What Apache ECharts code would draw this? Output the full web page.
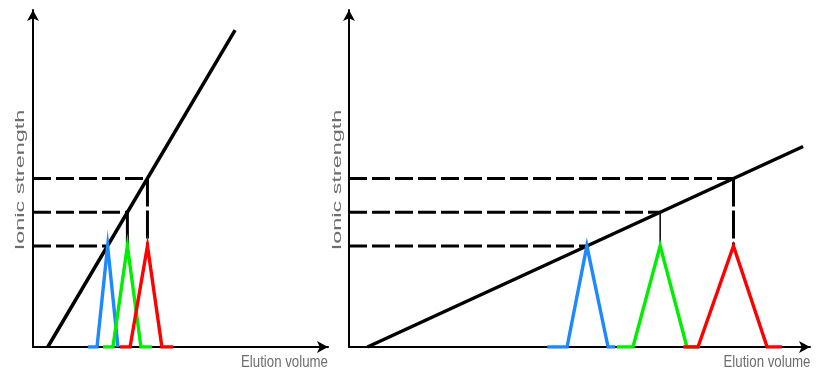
<!DOCTYPE html>
<html>
<head>
<meta charset="utf-8">
<script src="https://cdn.jsdelivr.net/npm/echarts@6/dist/echarts.min.js"></script>
<style>
  html, body { margin: 0; padding: 0; background: #fff; }
  #chart { width: 816px; height: 378px; }
</style>
</head>
<body>
<div id="chart"></div>
<script>
// Ionic strength levels at which the three proteins elute (shared by both panels)
const ionicLevels = [30, 40, 50];
const peakHeight = 30;

// Steep salt gradient (left panel): [elution volume, ionic strength]
const steepGradient = [[5, 0], [68.5, 94]];
const steepPeakX = [25.3, 32.0, 38.8];
const steepBlue = [[18.6, 0], [21.7, 0], [25.3, 30], [28.8, 0]];
const steepGreen = [[23.7, 0], [27.1, 0], [32.0, 30], [36.6, 0], [40.3, 0]];
const steepRed = [[29.5, 0], [32.9, 0], [38.8, 30], [43.7, 0], [47.5, 0]];

// Shallow salt gradient (right panel)
const shallowGradient = [[4, 0], [98.5, 59.5]];
const shallowPeakX = [51.6, 67.5, 83.4];
const shallowBlue = [[43.0, 0], [47.3, 0], [51.6, 30], [56.2, 0], [57.7, 0]];
const shallowGreen = [[58.1, 0], [61.6, 0], [67.5, 30], [73.3, 0], [76.1, 0]];
const shallowRed = [[72.5, 0], [75.7, 0], [83.4, 30], [90.7, 0], [93.9, 0]];

const axisTitleX = 'Elution volume';
const axisTitleY = 'Ionic strength';

const peakColors = ['#1e88ff', '#00ee00', '#ff0000'];

function axisPair(gridIndex) {
  const line = {
    show: true,
    symbol: ['none', 'arrow'],
    symbolSize: [9, 11],
    lineStyle: { color: '#000', width: 2 }
  };
  return {
    x: {
      type: 'value', gridIndex, min: 0, max: 100,
      axisLine: line, axisTick: { show: false }, axisLabel: { show: false },
      splitLine: { show: false }
    },
    y: {
      type: 'value', gridIndex, min: 0, max: 100,
      axisLine: line, axisTick: { show: false }, axisLabel: { show: false },
      splitLine: { show: false }
    }
  };
}

function panelSeries(idx, gradient, peakX, peaks, connectorWidths) {
  const out = [];
  const base = { type: 'line', xAxisIndex: idx, yAxisIndex: idx, showSymbol: false, symbol: 'none', silent: true, animation: false };
  // dashed guides from the y axis to the gradient line
  ionicLevels.forEach((lv, i) => {
    out.push(Object.assign({}, base, {
      data: [[0, lv], [peakX[i], lv]],
      lineStyle: { color: '#000', width: 3, type: [18, 5] },
      z: 3
    }));
  });
  // drop lines from the gradient down to the second and third peaks
  for (let i = 1; i < 3; i++) {
    out.push(Object.assign({}, base, {
      data: [[peakX[i], ionicLevels[i]], [peakX[i], peakHeight]],
      lineStyle: { color: '#000', width: connectorWidths[i], type: i === 2 ? [28, 4] : 'solid' },
      z: 3
    }));
  }
  // gradient line
  out.push(Object.assign({}, base, {
    data: gradient,
    lineStyle: { color: '#000', width: 3.5 },
    z: 4
  }));
  // elution peaks
  peaks.forEach((pk, i) => {
    out.push(Object.assign({}, base, {
      data: pk,
      lineStyle: { color: peakColors[i], width: 3.4, join: 'miter' },
      z: 5 + i
    }));
  });
  return out;
}

const a0 = axisPair(0);
const a1 = axisPair(1);

const textColor = '#6e6e6e';
function yTitle(cx) {
  return {
    type: 'text', x: cx, y: 180, rotation: Math.PI / 2, scaleX: 1.95,
    style: { text: axisTitleY, fill: textColor, font: '12px "Liberation Sans", Arial, sans-serif', textAlign: 'center', textVerticalAlign: 'middle' }
  };
}
function xTitle(cx) {
  return {
    type: 'text', x: cx, y: 362, scaleX: 0.78,
    style: { text: axisTitleX, fill: textColor, font: '17px "Liberation Sans", Arial, sans-serif', textAlign: 'center', textVerticalAlign: 'middle' }
  };
}

const chart = echarts.init(document.getElementById('chart'), null, { renderer: 'canvas' });
chart.setOption({
  animation: false,
  backgroundColor: '#fff',
  grid: [
    { left: 33, top: 10, width: 295, height: 337 },
    { left: 349, top: 10, width: 461, height: 337 }
  ],
  xAxis: [a0.x, a1.x],
  yAxis: [a0.y, a1.y],
  series: [].concat(
    panelSeries(0, steepGradient, steepPeakX, [steepBlue, steepGreen, steepRed], [0, 3, 3]),
    panelSeries(1, shallowGradient, shallowPeakX, [shallowBlue, shallowGreen, shallowRed], [0, 1.5, 3])
  ),
  graphic: [yTitle(21), yTitle(338), xTitle(284.5), xTitle(767)]
});
</script>
</body>
</html>
